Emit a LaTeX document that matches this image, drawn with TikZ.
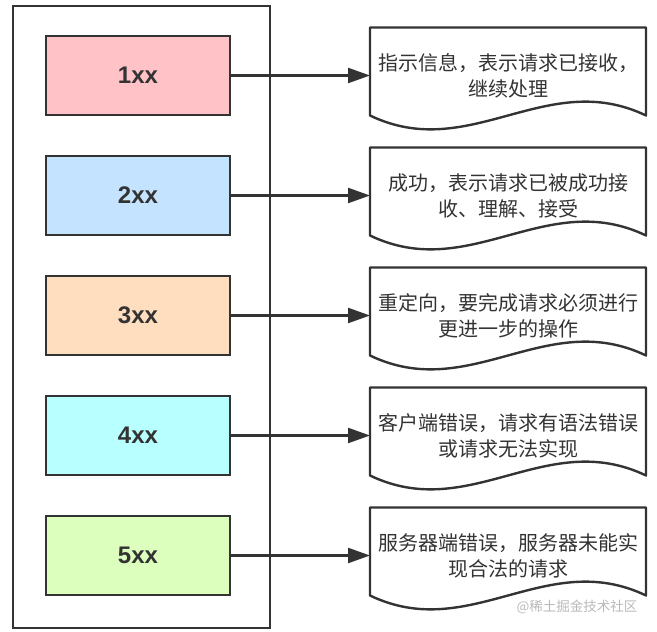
\documentclass[tikz,border=0pt]{standalone}
\usepackage{fontspec}
\usepackage{xcolor}
\usepackage{tikz}
\usetikzlibrary{arrows.meta,positioning,calc}

\newfontfamily\cjk{Noto Sans CJK SC}
\newfontfamily\labfont{Liberation Sans}

\definecolor{ink}{HTML}{333333}
\definecolor{info}{HTML}{FFC2C6}
\definecolor{okay}{HTML}{C3E3FF}
\definecolor{redir}{HTML}{FFDEC0}
\definecolor{client}{HTML}{B8FFFF}
\definecolor{server}{HTML}{DDFFBE}

\begin{document}
\begin{tikzpicture}[x=1pt, y=1pt,
  node distance=41pt and 140pt,
  code/.style={draw=ink, line width=2.6pt, outer sep=0pt, minimum width=184pt,
    minimum height=79pt, text=ink, font=\labfont\bfseries\fontsize{24}{24}\selectfont},
  doc/.style={minimum width=276pt, minimum height=96pt, inner sep=0pt, outer sep=0pt,
    align=center, text=ink, font=\cjk\fontsize{20}{26}\selectfont},
  outline/.style={draw=ink, line width=2.4pt, line join=round},
  flow/.style={-{Triangle[length=22pt,width=15pt]}, draw=ink, line width=2.4pt}]

  \useasboundingbox (0,0) rectangle (657,-632);

  % outer frame
  \node[draw=ink, line width=2.4pt, minimum width=257pt, minimum height=622pt] (frame) at (141.5,-317) {};

  % status classes
  \node[code, fill=info] (c1) at (138,-75.5) {1xx};
  \node[code, fill=okay, below=of c1] (c2) {2xx};
  \node[code, fill=redir, below=of c2] (c3) {3xx};
  \node[code, fill=client, below=of c3] (c4) {4xx};
  \node[code, fill=server, below=of c4] (c5) {5xx};

  % descriptions
  \node[doc, right=of c1] (d1) {指示信息，表示请求已接收，\\继续处理};
  \node[doc, right=of c2] (d2) {成功，表示请求已被成功接\\收、理解、接受};
  \node[doc, right=of c3] (d3) {重定向，要完成请求必须进行\\更进一步的操作};
  \node[doc, right=of c4] (d4) {客户端错误，请求有语法错误\\或请求无法实现};
  \node[doc, right=of c5] (d5) {服务器端错误，服务器未能实\\现合法的请求};

  \foreach \i in {1,...,5}{
    \draw[outline] ($(d\i.south west)+(0,8)$) -- (d\i.north west) -- (d\i.north east)
      -- ($(d\i.south east)+(0,8)$) .. controls +(-100,48) and +(100,-48) .. ($(d\i.south west)+(0,8)$) -- cycle;
    \draw[flow] (c\i) -- (d\i);
  }

  \node[font=\cjk\fontsize{13.5}{14}\selectfont, text=gray!55] (mark) at (577,-607) {@稀土掘金技术社区};
\end{tikzpicture}
\end{document}
